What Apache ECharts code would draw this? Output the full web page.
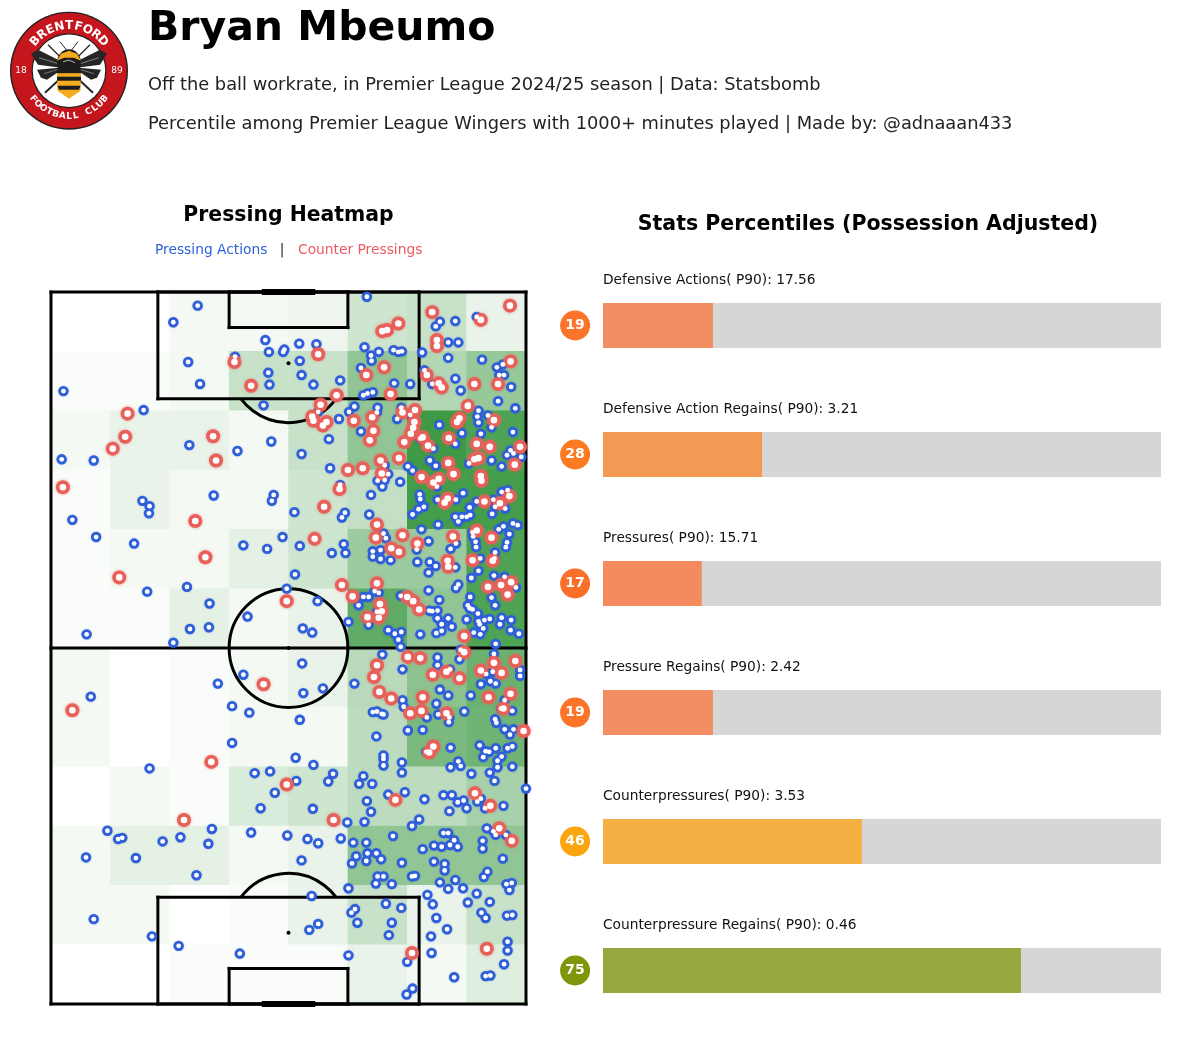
<!DOCTYPE html>
<html>
<head>
<meta charset="utf-8">
<style>
  html, body { margin: 0; padding: 0; background: #fff; }
  #chart { width: 1200px; height: 1038px; }
</style>
<script src="https://cdn.jsdelivr.net/npm/echarts@6/dist/echarts.min.js"></script>
</head>
<body>
<div id="chart"></div>
<script>
const FONT = '"DejaVu Sans", sans-serif';

// percentile bars, top to bottom
const statNames = ['Defensive Actions', 'Defensive Action Regains', 'Pressures', 'Pressure Regains', 'Counterpressures', 'Counterpressure Regains'];
const statValues = ['17.56', '3.21', '15.71', '2.42', '3.53', '0.46'];
const statBars = [19.7, 28.5, 17.7, 19.7, 46.4, 74.9];
const statBadges = [19, 28, 17, 19, 46, 75];
const barColors = ['#f38e62', '#f29a55', '#f38b5e', '#f38e62', '#f4b042', '#98a740'];
const badgeColors = ['#fb7429', '#fb7a22', '#fb7029', '#fb7429', '#fba50f', '#7f960b'];

// heatmap counts per 10x10 cell, rows from the top goal line down
const heatRows = [
  [0, 0, 2, 2, 3, 9, 10, 4],
  [1, 1, 2, 10, 10, 20, 14, 19],
  [2, 4, 4, 2, 10, 20, 35, 32],
  [1, 4, 2, 2, 9, 11, 34, 34],
  [1, 2, 2, 5, 9, 18, 18, 32],
  [1, 1, 5, 2, 4, 29, 20, 32],
  [2, 0, 1, 2, 4, 13, 21, 27],
  [2, 0, 1, 2, 2, 12, 24, 26],
  [0, 2, 1, 7, 9, 12, 12, 16],
  [2, 5, 5, 2, 4, 20, 20, 20],
  [2, 2, 0, 1, 4, 10, 4, 10],
  [0, 0, 1, 1, 1, 4, 2, 6]
];
const heatCols = ['0', '10', '20', '30', '40', '50', '60', '70'];
const heatRowNames = ['0', '10', '20', '30', '40', '50', '60', '70', '80', '90', '100', '110'];

// pitch is 80 wide, 120 long, y counted from the top
const pressingActions = [
  [24.7,2.3],[20.6,5.1],[36.1,8.1],[36.7,10.1],[39.3,9.7],[39.1,10.1],[23.1,11.8],[31,10.9],[36.6,13.6],[25.1,15.5],
  [36.8,15.6],[2.1,16.7],[15.6,19.9],[35.8,19.1],[23.3,25.8],[37.1,25.2],[31.4,26.8],[1.8,28.2],[7.2,28.4],[27.4,34.3],
  [37.5,34.2],[37.2,35.2],[15.4,35.2],[16.6,36.1],[16.5,37.3],[3.6,38.4],[7.6,41.3],[14,42.4],[32.4,42.7],[36.4,43.3],
  [39,41.3],[22.9,49.7],[16.2,50.5],[39.7,50],[26.7,52.5],[33.1,54.7],[23.4,56.8],[26.6,56.5],[6,57.7],[20.6,59.1],
  [41.8,8.7],[44.7,8.8],[41.9,11.6],[42.2,14],[44.2,15.6],[48.7,14.9],[53.2,0.8],[65.5,5],[64.8,5.8],[68.1,4.9],
  [71.7,4.2],[52.8,9.3],[53.9,10.7],[55.2,10.1],[54,11.6],[52.2,12.8],[57.7,9.8],[58.5,10.1],[59.1,10],[62.5,10.2],
  [66.9,8.5],[68.6,8.5],[66.9,11.1],[72.6,11.4],[75.1,12.7],[76.1,12.2],[75.5,14],[76.3,14],[68.1,14.6],[64.2,15.5],
  [69,16.6],[77.5,16],[57.8,15.4],[60.5,15.5],[62.9,13.2],[54.2,16.9],[53.3,17.1],[52.6,17.4],[75.3,18.4],[78.2,19.6],
  [51.1,19.3],[50.2,20.2],[45,20.2],[48.5,21.4],[55,19.5],[54.9,20.3],[59,19.5],[58.3,21.4],[60.5,20.7],[70.3,19],
  [72,20],[71.8,21],[72,22],[73.6,20.8],[74.2,22.8],[65.4,22.4],[52.2,23.5],[46.8,24.8],[69.2,23.8],[72.4,23.9],
  [77.8,23.6],[68.1,25.6],[62.2,24.7],[64.4,26.4],[42.2,27.3],[77.4,26.7],[76.8,27.5],[77.9,27.2],[79.2,27.8],[74.2,28.4],
  [63.8,28.4],[64.8,29.3],[70.4,28.9],[47,29.7],[56.2,29.2],[60.1,29.4],[75.9,29.4],
  [60.9,30.1],[56.8,30.7],[55,31.8],[56.2,31.7],[58.8,32],[55.8,32.8],[48.7,32.5],[53.9,34.2],[62.1,34.1],[62.2,34.9],
  [62.8,36.2],[61.9,36.6],[60.9,37.5],[65,32.8],[69.4,33.9],[68.2,35],[65.1,35],[70.5,36.3],[71.7,35.3],[74.5,35],
  [74.8,36.2],[75.9,33.7],[76.9,33.4],[76.5,36.5],[74.3,37.4],[70.6,37.6],[69.2,37.9],[68.1,37.9],[68.6,38.7],[70,37.9],
  [65.2,39.2],[77.8,39],[78.6,39.3],[76.2,39.5],[75.4,40],[62.4,40],[41,37.1],[49.5,37.2],[49,38],[53.6,37.5],
  [56,40.7],[56.4,41.5],[77.2,40.8],[71,40.5],[71.1,41.2],[71.5,42.1],[71.6,43],[63.6,42],[68.2,42.4],[67.3,43.3],
  [61.6,43.4],[76.8,42.2],[76.6,43],[74.8,43.9],[49.3,42.5],[49.6,44],[47.3,44],[41.9,42.8],[54.2,43.7],[54.2,44.6],
  [55.5,43.5],[55.5,45],[57.2,45.2],[72.3,44.9],[74.7,44.9],[61.7,45.5],[63.8,45.5],[64.8,46.2],[63.6,47.3],[68.1,46.4],
  [72,47],[70.8,48.2],[74.6,47.8],[76.4,48],[41.1,47.6],[68.6,49.3],[68.2,49.9],[78.3,49.8],[63.6,50.3],[54.5,50.4],
  [55.2,50.7],[52.6,51.4],[53.5,51.4],[58.9,51.2],[44.9,52.1],[70.6,51.4],[74.2,51.5],[65.4,51.9],[51.8,52.8],[74.8,52.8],
  [70.2,52.8],[70.5,53.3],[71,53.5],[63.7,53.7],[64.2,53.8],[65.1,53.7],[71.9,54.2],[54.9,53.9],[65.1,55],[66.9,55],
  [70,55.2],[73.9,55.1],[73,55.3],[75.9,54.9],[77.5,55.3],[72,55.5],[72.2,56],[75.6,56],[65.8,56],[67.5,56.4],
  [50.1,55.6],[53.5,56.1],[42.4,56.7],[44,57.4],[56.8,57],[59,57.3],[57.9,57.6],[62.2,57.7],[64.9,57.5],[65.8,57.1],
  [71.2,57.4],[72.8,56.7],[72.3,57.7],[77.4,57],[78.8,57.6],[58.5,58.6],[58.9,59.8],[74.9,59.3],
  [32.4,64.5],[28.1,66],[6.7,68.2],[30.5,69.8],[33.4,70.9],[30.5,76],[16.6,80.3],[34.3,81.1],[36.9,80.8],[37.7,84.4],
  [35.3,87],[9.5,90.8],[12,92],[11.3,92.2],[27.1,90.5],[21.8,91.9],[18.8,92.6],[26.5,93],[33.7,91.1],[39.8,91.6],
  [5.9,95.3],[14.3,95.4],[24.5,98.3],[7.2,105.7],[17,108.6],[21.5,110.2],[31.8,111.5],
  [55.8,61.1],[65.1,61.6],[65.1,62.9],[68.8,61.9],[69,60.3],[74.6,61],[59.2,63.6],[67.2,63.6],[79,63.7],[79,64.7],
  [74.4,64],[73.3,64.4],[74,65.6],[74.9,66],[72.4,66.1],[42.3,62.6],[51.1,66],[45.8,66.8],[42.5,67.6],[65.5,67],
  [66.9,68],[70.7,68],[59.2,68.8],[59.4,69.9],[64.9,69.4],[76.4,68.8],[54.2,70.8],[54.9,70.7],[55.7,71.1],[56,71.2],
  [69.6,70.7],[77.7,70.6],[75.8,70.2],[63.3,71.7],[65.2,71.2],[67.1,71.7],[67,72.5],[74.8,72],[75,72.6],[41.9,72.1],
  [60.1,73.9],[62.6,73.8],[76.4,73.7],[77.9,73.7],[77.3,74.6],[54.8,74.9],[72.2,76.4],[67.3,76.8],[63.2,77.5],[73.2,77.4],
  [73.8,77.5],[74.9,76.9],[76.9,76.9],[77.7,76.6],[56,78.1],[56,78.7],[56,79.8],[41.2,78.5],[44.2,79.7],[59.1,79.3],
  [72.8,78.4],[75.9,78.3],[68.6,79.1],[75.2,79],[69,79.9],[67.3,80.1],[75.2,80.1],[77.7,80],[59.1,81],[47.5,81.2],
  [70.8,81.2],[73.9,81],[52.6,81.6],[41.3,82.4],[46.7,82.5],[74.7,82.4],[51.9,82.9],[54.1,82.9],[80,83.7],[56.8,84.7],
  [59.6,84.3],[62.9,85.5],[66.1,84.8],[67.5,84.8],[68.5,86],[69.5,85.7],[72.4,85.4],[71.8,85.9],[53.2,85.8],[70,87],
  [67.1,87.5],[73.1,87],[76.2,86.6],[44.1,87.1],[53.9,87.6],[49.9,89.4],[52.8,89.3],[62,88.9],[60.8,90],[73.4,90.4],
  [43.2,92.2],[45,92.9],[48.8,92.1],[50.9,92.8],[53.1,92.8],[57.6,91.7],[66.1,91.2],[66.9,91.2],[67.9,92.4],[67.2,93.2],
  [68.5,93.5],[65.8,93.5],[64.5,93.3],[62.6,93.9],[74.5,90.9],[74.9,91.5],[76.6,91.5],[72.7,92.5],[72.7,93.8],[76.1,95.5],
  [42.2,95.8],[51.4,95.1],[53.3,94.6],[54.8,94.6],[55.6,95.6],[53.1,95.9],[50.7,96.3],[59.1,96.2],[64.5,96],[66.3,96.4],
  [66.3,97.5],[55,98.5],[56,98.5],[54.7,99.7],[57.4,99.8],[60.8,98.5],[61.3,98.4],[73.5,97.7],[72.9,98.6],[68.1,99.1],
  [65.5,99.5],[66.9,100.6],[69.4,100.5],[50.1,100.5],[76.7,99.8],[77.6,99.6],[77.2,100.8],[71.7,101.4],[63.4,101.6],[43.9,101.8],
  [56.4,103.1],[59,103.8],[64.3,103.2],[70.2,102.9],[73.9,102.8],[51.2,104],[50.6,104.6],[72.5,104.6],[73.2,105.5],[76.8,105.1],
  [77.7,105],[64.9,105.5],[51.6,106.3],[57.4,106.3],[45,106.5],[43.5,107.5],[66.7,107.4],[56.9,108.4],[64,108.6],[76.9,109.5],
  [76.9,111],[50.1,111.8],[64.1,111.4],[60,112.9],[76.3,113.3],[67.9,115.5],[73.2,115.3],[74,115.2],[60.9,117.4],[59.9,118.4]
];
const counterPressings = [
  [30.9,11.8],[33.7,15.8],[12.9,20.5],[12.5,24.4],[10.4,26.4],[27.3,24.3],[27.8,28.4],[2,32.9],[24.3,38.6],[26,44.7],
  [11.5,48.1],[39.7,52.1],
  [77.3,2.3],[72.4,4.7],[64.2,3.4],[58.5,5.3],[56.6,6.4],[55.8,6.6],[65,8.1],[65,9.1],[45,10.5],[77.4,11.7],
  [56.1,12.7],[53.1,14],[63.3,14],[65.3,15.4],[65.8,16.1],[71.3,15.5],[75.3,15.5],[57.2,17.2],[48.1,17.4],[45.4,19],
  [44,21],[44.2,21.7],[45.8,22.5],[46.4,21.9],[51,21.7],[54.1,21.1],[61.3,19.9],[59.2,20.3],[70.2,19.2],[74.6,21.6],
  [68.8,21.3],[68.4,21.9],[61.2,21.9],[61,22.9],[60.6,23.9],[54.3,23.4],[53.7,25],[59.5,25.3],[62.6,24.5],[63.5,25.9],
  [67,24.6],[71.7,25.6],[73.9,26.1],[79,26.1],[58.6,28],[55.5,28.4],[72,28],[71.3,28.2],[66.9,28.8],[50,30],
  [52.5,29.7],[78.1,29.1],
  [55.7,30.6],[62.4,31.2],[67.8,30.7],[64.4,32.1],[65.3,31.5],[72.4,31],[72.5,31.8],[48.6,33.2],[77.2,34.4],[73,35.3],
  [75.6,35.6],[66.8,34.8],[66.3,35.5],[46,36.2],[54.9,39.2],[71.7,40.2],[54.7,41.4],[59.2,41],[67.7,41.2],[74.2,41.4],
  [44.4,41.6],[61.7,42.4],[57.3,43.2],[58.6,43.8],[71,45.2],[74.4,45.3],[66.8,45.3],[66.9,46.3],[49,49.4],[54.9,49.1],
  [73.6,49.7],[75.8,49.4],[77.5,48.9],[76.9,51],[50.8,51.3],[60,51.4],[61,52.1],[62,53.5],[55.4,52.6],[55.7,53.8],
  [55.2,54.9],[53.3,54.8],[69.6,58],
  [35.8,66.1],[3.6,70.5],[27,79.2],[39.7,83],[22.4,89],
  [69.6,60.7],[60.1,61.5],[62.2,61.7],[74.6,62.5],[78.2,62.2],[54.9,62.9],[54.4,64.9],[64.3,64.5],[66.6,64],[68.8,65.1],
  [72.4,63.8],[75.9,64.2],[55.3,67.4],[57.3,68.5],[62.6,68.3],[73.7,68.3],[77.4,67.7],[60.5,71],[62.4,70.6],[66.6,71],
  [76.2,70.2],[79.6,74],[64.4,76.6],[63.7,77.6],[71.4,84.5],[58,85.6],[74,86.6],[47.6,89],[75.5,90.4],
  [77.6,92.5],[73.4,110.7],[60.8,111.4]
];

const heatData = [];
heatRows.forEach((row, r) => row.forEach((v, c) => heatData.push([c, r, v])));

const pitchGrid = { left: 51, top: 292, width: 475, height: 712 };

// pitch markings drawn through the value axes so they share the dots' scale
function renderPitch(params, api) {
  const line = (x1, y1, x2, y2, w) => {
    const a = api.coord([x1, y1]);
    const b = api.coord([x2, y2]);
    return { type: 'line', shape: { x1: a[0], y1: a[1], x2: b[0], y2: b[1] }, style: { stroke: '#000', lineWidth: w || 3, lineCap: 'square' } };
  };
  const box = (x1, y1, x2, y2) => [line(x1, y1, x2, y1), line(x2, y1, x2, y2), line(x2, y2, x1, y2), line(x1, y2, x1, y1)];
  const r10 = api.size([10, 0])[0];
  const arc = (cx, cy, start, end) => {
    const c = api.coord([cx, cy]);
    return { type: 'arc', shape: { cx: c[0], cy: c[1], r: r10, startAngle: start, endAngle: end }, style: { stroke: '#000', fill: 'none', lineWidth: 3 } };
  };
  const spot = (cx, cy) => {
    const c = api.coord([cx, cy]);
    return { type: 'circle', shape: { cx: c[0], cy: c[1], r: 2 }, style: { fill: '#000' } };
  };
  const cut = Math.asin(0.6);
  return {
    type: 'group',
    children: [
      ...box(0, 0, 80, 120),
      line(0, 60, 80, 60),
      ...box(18, 0, 62, 18),
      ...box(30, 0, 50, 6),
      ...box(18, 102, 62, 120),
      ...box(30, 114, 50, 120),
      line(36, 0, 44, 0, 6),
      line(36, 120, 44, 120, 6),
      arc(40, 60, 0, Math.PI * 2),
      arc(40, 12, cut, Math.PI - cut),
      arc(40, 108, Math.PI + cut, Math.PI * 2 - cut),
      spot(40, 12),
      spot(40, 60),
      spot(40, 108)
    ]
  };
}

// small helper for the graphic texts
function label(text, x, y, size, color, weight, align) {
  return {
    type: 'text',
    style: { text, x, y, fill: color, font: `${weight || 'normal'} ${size}px ${FONT}`, textAlign: align || 'left', textVerticalAlign: 'middle' }
  };
}

// club badge
function arcLetters(text, r, mid, step, size, bottom) {
  const out = [];
  const n = text.length;
  for (let i = 0; i < n; i++) {
    if (text[i] === ' ') continue;
    const off = (i - (n - 1) / 2) * step;
    const a = bottom ? mid - off : mid + off; // degrees from straight up, clockwise
    const rad = a * Math.PI / 180;
    out.push({
      type: 'text',
      x: r * Math.sin(rad),
      y: -r * Math.cos(rad),
      rotation: bottom ? -(a - 180) * Math.PI / 180 : -a * Math.PI / 180,
      style: { text: text[i], x: 0, y: 0, fill: '#fff', font: `bold ${size}px ${FONT}`, textAlign: 'center', textVerticalAlign: 'middle' }
    });
  }
  return out;
}

const BEE_DARK = '#262626';
const BEE_YELLOW = '#f5ac1f';

function poly(points, fill) {
  return { type: 'polygon', shape: { points }, style: { fill } };
}
function stroke(points, w, color) {
  return { type: 'polyline', shape: { points }, style: { stroke: color || BEE_DARK, lineWidth: w, fill: 'none' } };
}

// left half of the bee, mirrored for the right
const beeLeft = [
  poly([[-38, -17], [-31, -21], [-9, -10], [-8, -3], [-31, -6]], BEE_DARK),
  poly([[-32, -1], [-10, -3], [-9, 0], [-22, 9], [-28, 7]], BEE_DARK),
  stroke([[-30, -13], [-11, -7]], 0.7, '#aaa'),
  stroke([[-25, 3], [-12, -1]], 0.6, '#aaa'),
  stroke([[-9, -14], [-21, -26]], 1.3),
  stroke([[-10, 9], [-24, 22]], 2),
  stroke([[-2, -20], [-9, -29]], 1)
];
const mirrored = pts => pts.map(p => [-p[0], p[1]]);
const beeRight = beeLeft.map(el => ({ ...el, shape: { points: mirrored(el.shape.points) } }));

const badge = {
  type: 'group',
  x: 69,
  y: 70.7,
  children: [
    { type: 'circle', shape: { cx: 0, cy: 0, r: 59 }, style: { fill: '#222' } },
    { type: 'circle', shape: { cx: 0, cy: 0, r: 57.6 }, style: { fill: '#c4161c' } },
    { type: 'circle', shape: { cx: 0, cy: 0, r: 37.5 }, style: { fill: '#222' } },
    { type: 'circle', shape: { cx: 0, cy: 0, r: 36.2 }, style: { fill: '#fff' } },
    ...arcLetters('BRENTFORD', 44.8, 0, 12.2, 12),
    ...arcLetters('FOOTBALL CLUB', 45.5, 180, 8.6, 9, true),
    { type: 'text', style: { text: '18', x: -48, y: 0, fill: '#fff', font: `9px ${FONT}`, textAlign: 'center', textVerticalAlign: 'middle' } },
    { type: 'text', style: { text: '89', x: 48, y: 0, fill: '#fff', font: `9px ${FONT}`, textAlign: 'center', textVerticalAlign: 'middle' } },
    ...beeLeft,
    ...beeRight,
    // thorax and head
    { type: 'ellipse', shape: { cx: 0, cy: -8, rx: 12, ry: 13.5 }, style: { fill: '#1c1c1c' } },
    poly([[-12, -10], [-8, -17], [0, -20], [8, -17], [12, -10], [5, -13], [-5, -13]], BEE_YELLOW),
    stroke([[-6, -9], [0, -10.5], [6, -8]], 0.8, '#ddd'),
    // abdomen stripes
    poly([[-12, 2], [12, 2], [11.5, 20], [0, 28], [-11.5, 20]], BEE_YELLOW),
    poly([[-12, 6], [12, 6], [12, 10], [-12, 10]], '#1c1c1c'),
    poly([[-11.5, 15], [11.5, 15], [10, 19], [-10, 19]], '#1c1c1c'),
    poly([[-12, 0], [12, 0], [12, 2.5], [-12, 2.5]], '#1c1c1c')
  ]
};

const option = {
  animation: false,
  backgroundColor: '#fff',
  graphic: [
    badge,
    label('Bryan Mbeumo', 148, 29, 41, '#000', 'bold'),
    label('Off the ball workrate, in Premier League 2024/25 season | Data: Statsbomb', 148, 85, 17.82, '#222'),
    label('Percentile among Premier League Wingers with 1000+ minutes played | Made by: @adnaaan433', 148, 124.5, 17.82, '#222'),
    label('Pressing Heatmap', 288.5, 216, 20.4, '#000', 'bold', 'center'),
    label('Pressing Actions', 155, 250, 13.8, '#2f62d9'),
    label('|', 282, 250, 13.8, '#222', 'normal', 'center'),
    label('Counter Pressings', 298, 250, 13.8, '#ef5a60'),
    label('Stats Percentiles (Possession Adjusted)', 868, 224.5, 20.5, '#000', 'bold', 'center')
  ],
  grid: [
    pitchGrid,
    pitchGrid,
    { left: 547.2, top: 261, width: 613.8, height: 774 }
  ],
  xAxis: [
    { type: 'category', gridIndex: 0, data: heatCols, show: false },
    { type: 'value', gridIndex: 1, min: 0, max: 80, show: false },
    { type: 'value', gridIndex: 2, min: -10, max: 100, show: false }
  ],
  yAxis: [
    { type: 'category', gridIndex: 0, data: heatRowNames, inverse: true, show: false },
    { type: 'value', gridIndex: 1, min: 0, max: 120, inverse: true, show: false },
    { type: 'category', gridIndex: 2, data: statNames, inverse: true, show: false }
  ],
  visualMap: {
    show: false,
    seriesIndex: 0,
    min: 0,
    max: 35,
    inRange: { color: ['#ffffff', '#3f9a45'] }
  },
  series: [
    {
      type: 'heatmap',
      xAxisIndex: 0,
      yAxisIndex: 0,
      data: heatData,
      itemStyle: { borderWidth: 0 },
      silent: true
    },
    {
      type: 'custom',
      xAxisIndex: 1,
      yAxisIndex: 1,
      data: [[0, 0]],
      renderItem: renderPitch,
      silent: true,
      z: 3
    },
    {
      name: 'Pressing Actions',
      type: 'scatter',
      xAxisIndex: 1,
      yAxisIndex: 1,
      data: pressingActions,
      symbolSize: 10.4,
      clip: false,
      itemStyle: { color: '#2f5fd8', opacity: 1, shadowBlur: 1.5, shadowColor: 'rgba(47,95,216,0.5)' },
      z: 4
    },
    {
      name: 'Counter Pressings',
      type: 'scatter',
      xAxisIndex: 1,
      yAxisIndex: 1,
      data: counterPressings,
      symbolSize: 14,
      clip: false,
      itemStyle: { color: '#e8605a', opacity: 1, shadowBlur: 3, shadowColor: 'rgba(232,96,90,0.6)' },
      z: 5
    },
    {
      type: 'scatter',
      xAxisIndex: 1,
      yAxisIndex: 1,
      data: pressingActions,
      symbolSize: 4.8,
      clip: false,
      itemStyle: { color: '#fff', opacity: 1 },
      z: 6
    },
    {
      type: 'scatter',
      xAxisIndex: 1,
      yAxisIndex: 1,
      data: counterPressings,
      symbolSize: 6.6,
      clip: false,
      itemStyle: { color: '#fff', opacity: 1 },
      z: 6
    },
    {
      type: 'bar',
      xAxisIndex: 2,
      yAxisIndex: 2,
      data: statNames.map(() => 100),
      barWidth: 45,
      barGap: '-100%',
      itemStyle: { color: '#d6d6d6' },
      label: {
        show: true,
        position: [0, -23],
        align: 'left',
        verticalAlign: 'middle',
        fontFamily: FONT,
        fontSize: 13.75,
        color: '#111',
        formatter: p => `${statNames[p.dataIndex]}( P90): ${statValues[p.dataIndex]}`
      },
      z: 2
    },
    {
      type: 'bar',
      xAxisIndex: 2,
      yAxisIndex: 2,
      data: statBars.map((v, i) => ({ value: v, itemStyle: { color: barColors[i] } })),
      barWidth: 45,
      barGap: '-100%',
      z: 3
    },
    {
      type: 'scatter',
      xAxisIndex: 2,
      yAxisIndex: 2,
      data: statBadges.map((v, i) => ({ value: [-5, i], itemStyle: { color: badgeColors[i], opacity: 1 } })),
      symbolSize: 30,
      clip: false,
      label: {
        show: true,
        position: 'inside',
        color: '#fff',
        fontFamily: FONT,
        fontWeight: 'bold',
        fontSize: 14,
        formatter: p => String(statBadges[p.dataIndex])
      },
      z: 4
    }
  ]
};

echarts.init(document.getElementById('chart'), null, { renderer: 'canvas' }).setOption(option);
</script>
</body>
</html>
